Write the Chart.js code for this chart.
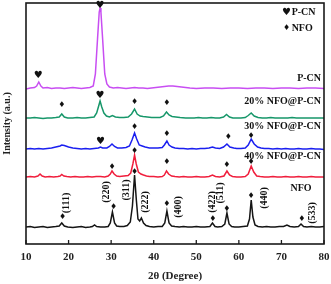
<!DOCTYPE html>
<html><head><meta charset="utf-8">
<script src="https://cdn.jsdelivr.net/npm/chart.js@4/dist/chart.umd.min.js"></script>
<style>html,body{margin:0;padding:0;background:#fff}#wrap{width:331px;height:284px}</style>
</head><body><div id="wrap"><canvas id="c"></canvas></div>
<script>
// ---- data (2θ in degrees, intensity in arbitrary units, curves offset as in the figure) ----
const seriesNames = ['P-CN','20% NFO@P-CN','30% NFO@P-CN','40% NFO@P-CN','NFO'];
const xTicks = [10,20,30,40,50,60,70,80];

const pcnX = [10,11,12,12.5,13,13.5,14,15,16,17,18,19,20,21,22,23,24,25,25.8,26.3,26.8,27.2,27.4,27.6,28,28.5,29,29.6,30.5,31.5,32.5,33.5,34.5,35.5,36.5,37.5,38.5,39.5,40.5,41.5,42.5,43.5,44.5,45.5,46.5,47.5,48.5,50,52,54,56,58,60,62,64,66,68,70,72,74,76,78,80];
const pcnY = [155,156,156.5,158,162,158,156,156.5,155.5,156,156,155.5,156,156.5,156,155.5,156,156.5,158,170,205,232,236,232,205,170,160,157,156,156.5,156,155.5,156,156.5,156,156,155.5,156,156.5,157,157.5,158,158,157.5,157,156.5,156,155.5,156,156,155.5,156,156,155.5,156,156,155.5,156,156,155.5,156,156,155.5];

const n20X = [10,11,12,13,14,15,16,17,17.8,18.4,19,19.8,21,22,23,24,25,26,26.6,27,27.4,27.8,28.3,28.9,29.6,30.3,31,32,33,34,34.8,35.5,36.1,36.8,37.5,38.5,39.5,40.5,41.5,42.3,43,43.6,44.3,45.2,46.2,47.5,48.5,49.5,50.5,51.5,52.5,53.5,54.5,55.5,56.4,57.1,57.8,58.6,59.5,60.5,61.5,62.2,62.9,63.6,64.5,65.5,66.5,67.5,68.5,69.5,70.5,71.5,72.5,73.5,74.5,75.5,76.5,77.5,78.5,79.5,80];
const n20Y = [126,126,126.5,126,125.5,126,126,126.5,127,130,127,126,126,126.5,126,126,126.5,127,131,137,143,137,131,128,127,128.5,127,126.5,126.5,127,130,135,130,128,127.5,127,126.5,126.5,126.5,128,132,129,127.5,127,126.5,126,126,126,126.5,126,126,126.5,126,126,127,129.5,127,126,126,126,126.5,128.5,131,128,126.5,126,126,126.5,126,126,126,126,126.5,126,126,126,126,126,126,126,126];

const n30X = [10,11,12,13,14,15,16,17,18,18.4,19,20,21,22,23,24,25,26,27,27.5,28,29,29.6,30.2,30.8,31.5,32.5,33.5,34.3,34.9,35.5,36,36.6,37.3,38,39,40,41,42,42.5,43.1,43.6,44.3,45,46,47,48,49,50,51,52,53,53.8,54.5,55.5,56.4,57.2,57.9,58.8,59.5,60.5,61.5,62.2,62.9,63.6,64.4,65.2,66,67,68,69,70,71,72,73,74,75,76,77,78,79,80];
const n30Y = [95,95.5,95,95.5,95,95.5,96,97,98,99,98.5,97,96,95.5,95,95.5,95,95.5,96,97,96,96,97.5,100,97.5,96,96,96.5,98,104,111,105,99,98,97,96,96,96,96.5,99,103,99,97,96,95.5,95.5,95,95.5,95,95.5,95.5,96,97,96,95.5,97,100,97,96,95.5,95.5,96,99,105,100,97,96,95.5,95.5,95,95.5,95,95.5,95,95,95.5,95,95,95.5,95,95,94.5];

const n40X = [10,11,12,12.8,13.3,13.8,14.5,15.5,16.5,17.5,18,18.4,18.9,19.6,20.5,21.5,22.5,23.5,24.5,25.5,26.5,27.5,28.5,29.3,29.8,30.2,30.7,31.3,32,33,34,34.6,35.1,35.5,35.9,36.4,37,37.6,38.3,39,40,41,42,42.5,43,43.5,44.2,45,46,47,48,49,50,51,52,53,53.8,54.5,55.5,56.5,57.2,57.8,58.5,59.5,60.5,61.5,62.2,62.9,63.5,64.2,65,66,67,68,69,70,71,72,73,74,75,76,77,78,79,80];
const n40Y = [67,67.5,67,68,70,68,67,67.5,67,67.5,68,69.5,68,67.5,67,67.5,67,67,67.5,67,67.5,67.5,67,68,70,73,70,68,67.5,68,68.5,71,80,89,80,72,70,69,68,67.5,67.5,67,67.5,69,73,70,68,67.5,67,67.5,67,67,67.5,67,67,67.5,69,67.5,67,68,73,69,67.5,67,67,67.5,70,78,72,68,67.5,67,67,67.5,67,67,67.5,67,67,67.5,67,67,67.5,67,67,67];

const nfoX = [10,11,12,13,14,15,16,17,17.8,18.4,19,19.8,21,22,23,24,25,25.6,26.1,26.6,27.5,28.5,29.3,29.8,30.3,30.8,31.3,32,33,33.8,34.5,35,35.5,35.9,36.3,36.7,37.1,37.6,38.2,39,40,41,42,42.6,43.1,43.6,44.2,45,46,47,48,49,50,51,52,53.2,53.8,54.4,55,56,56.7,57.2,57.7,58.3,59,60,61,62,62.5,62.9,63.3,63.8,64.5,65.5,66.5,67.5,68.5,69.5,70.5,71.3,72,73,74,74.6,75.2,76,77,78,79,80];
const nfoY = [17,17.5,16.5,17,17.5,16.5,17,17.5,18,21,18,17,16.5,17,17.5,16.5,17,17.5,19,17.5,17,17,17.5,21,32,21,18,17.5,17.5,18.5,22,38,69,45,25,23,26,21,18.5,17.5,17,17.5,17.5,21,33,21,18,17.5,17,17.5,17,17,17.5,17,17,17.5,21,17.5,17,17.5,20,31,20,17.5,17,17,17.5,18,25,44,27,19,17.5,17,17.5,17,17,17.5,17.5,19,17.5,17,17.5,20,17.5,17,17.5,17,17,17.5];

// peak symbols: [2θ, height]
const pcnHearts = [[12.9,169],[27.4,239]];
const n20Hearts = [[27.4,149]];
const n20Diamonds = [[18.4,139],[35.5,142],[43.1,141]];
const n30Hearts = [[27.5,103]];
const n30Diamonds = [[35.5,117],[43.1,110],[57.5,107],[62.9,108]];
const n40Diamonds = [[30.2,77],[35.5,93],[43.1,82],[57.2,79],[62.9,82]];
const nfoDiamonds = [[18.6,27],[30.6,37],[35.5,72],[43.1,40],[53.9,25],[57.2,35],[62.9,48],[74.8,25]];
// Miller indices: [label, 2θ, height]
const hklLabels = [['(111)',19.6,41],['(220)',28.8,52],['(311)',33.5,54],['(222)',38.0,42],['(400)',45.9,37],['(422)',53.9,42],['(511)',55.6,51],['(440)',65.9,46],['(533)',77.2,31]];
// series name labels: [text, 2θ, height, align]
const curveLabels = [['P-CN',79.3,166,'right'],['20% NFO@P-CN',79.3,143,'right'],['30% NFO@P-CN',79.3,118,'right'],['40% NFO@P-CN',79.3,88,'right'],['NFO',74.6,56,'center']];
// legend: [symbol, text, height]
const legendItems = [['\u2665','P-CN',232],['\u2666','NFO',216]];

const colors = ['#c84ef2','#17976a','#1a1ff0','#f01e3c','#151515'];
const xs = [pcnX,n20X,n30X,n40X,nfoX], ys = [pcnY,n20Y,n30Y,n40Y,nfoY];

const serif = '"Liberation Serif","DejaVu Serif",serif';
const sym = '"DejaVu Sans",sans-serif';

const overlay = {
  id:'overlay',
  afterDatasetsDraw(chart){
    const {ctx, chartArea:a, scales:{x,y}} = chart;
    ctx.save();
    ctx.strokeStyle='#1a1a1a'; ctx.lineWidth=1.6;
    ctx.strokeRect(a.left,a.top,a.right-a.left,a.bottom-a.top);
    ctx.lineWidth=1.3;
    xTicks.forEach(v=>{const px=x.getPixelForValue(v);ctx.beginPath();ctx.moveTo(px,a.bottom);ctx.lineTo(px,a.bottom-4);ctx.stroke();});
    ctx.fillStyle='#111'; ctx.textAlign='center'; ctx.textBaseline='middle';
    const drawSym=(arr,ch,font)=>{ctx.font=font;arr.forEach(([vx,vy])=>ctx.fillText(ch,x.getPixelForValue(vx),y.getPixelForValue(vy)));};
    drawSym([...pcnHearts,...n20Hearts,...n30Hearts],'\u2665','bold 10px '+sym);
    drawSym([...n20Diamonds,...n30Diamonds,...n40Diamonds,...nfoDiamonds],'\u2666','8px '+sym);
    ctx.font='bold 10px '+serif;
    hklLabels.forEach(([t,vx,vy])=>{ctx.save();ctx.translate(x.getPixelForValue(vx),y.getPixelForValue(vy));ctx.rotate(-Math.PI/2);ctx.fillText(t,0,0);ctx.restore();});
    curveLabels.forEach(([t,vx,vy,al])=>{ctx.textAlign=al;ctx.fillText(t,x.getPixelForValue(vx),y.getPixelForValue(vy));});
    legendItems.forEach(([s,t,vy])=>{
      const py=y.getPixelForValue(vy);
      ctx.textAlign='center';
      ctx.font=(s==='\u2665'?'bold 10px ':'8px ')+sym;
      ctx.fillText(s,x.getPixelForValue(71.2),py);
      ctx.textAlign='left'; ctx.font='bold 10px '+serif;
      ctx.fillText(t,x.getPixelForValue(72.4),py);
    });
    ctx.restore();
  }
};

new Chart(document.getElementById('c'),{
  type:'line',
  data:{datasets:seriesNames.map((n,i)=>({label:n,data:xs[i].map((v,j)=>({x:v,y:ys[i][j]})),borderColor:colors[i],borderWidth:1.5,pointRadius:0,tension:0,fill:false}))},
  options:{
    responsive:true,maintainAspectRatio:false,animation:false,
    layout:{padding:{left:0,right:7,top:3,bottom:0}},
    plugins:{legend:{display:false},tooltip:{enabled:false}},
    scales:{
      x:{type:'linear',min:10,max:80,
        afterBuildTicks:s=>{s.ticks=xTicks.map(v=>({value:v}));},
        afterFit:s=>{s.height=40;s.paddingLeft=0;s.paddingRight=0;},
        grid:{display:false,drawTicks:false},border:{display:false},
        ticks:{padding:7,color:'#222',font:{family:serif,size:11,weight:'bold'}},
        title:{display:true,text:'2θ (Degree)',color:'#222',padding:{top:0,bottom:1},font:{family:serif,size:11,weight:'bold'}}},
      y:{type:'linear',min:0,max:241,
        afterFit:s=>{s.width=26;s.paddingTop=0;s.paddingBottom=0;},
        grid:{display:false,drawTicks:false},border:{display:false},
        ticks:{display:false},
        title:{display:true,text:'Intensity (a.u.)',color:'#222',padding:{top:1,bottom:0},font:{family:serif,size:10,weight:'bold'}}}
    }
  },
  plugins:[overlay]
});
</script></body></html>
